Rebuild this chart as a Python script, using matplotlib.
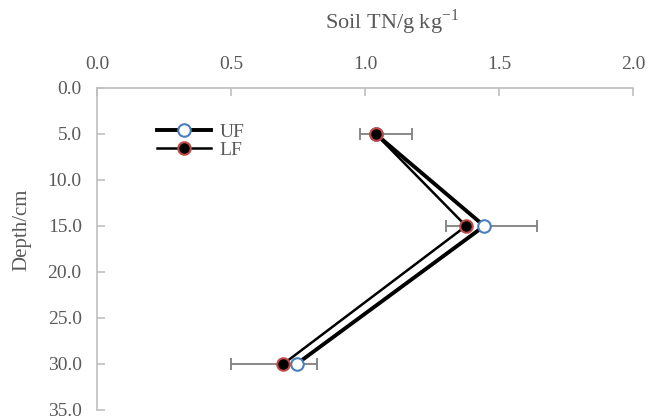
import matplotlib
matplotlib.use("Agg")
import matplotlib.pyplot as plt
import numpy as np

depth = [5, 15, 30]
uf_tn = [1.04, 1.445, 0.745]
lf_tn = [1.04, 1.377, 0.695]
uf_err_plus = [0.135, 0.197, 0.075]
lf_err_minus = [0.06, 0.075, 0.195]
xticks = [0.0, 0.5, 1.0, 1.5, 2.0]
yticks = [0, 5, 10, 15, 20, 25, 30, 35]

plt.rcParams['font.family'] = ['Liberation Serif', 'DejaVu Serif']
txt = '#595959'
spine = '#bfbfbf'

fig = plt.figure(figsize=(6.51, 4.2), dpi=100)
ax = fig.add_axes([97/651, 1-410/420, (633-97)/651, (410-88)/420])

ax.errorbar(uf_tn, depth, xerr=[np.zeros(3), uf_err_plus], fmt='none',
            ecolor='#7f7f7f', elinewidth=1.3, capsize=4, capthick=1.3, zorder=2)
ax.errorbar(lf_tn, depth, xerr=[lf_err_minus, np.zeros(3)], fmt='none',
            ecolor='#7f7f7f', elinewidth=1.3, capsize=4, capthick=1.3, zorder=2)

ax.plot(uf_tn, depth, color='black', lw=2.8, marker='o', ms=9,
        mfc='white', mec='#4a7ebb', mew=1.5, label='UF', zorder=3)
ax.plot(lf_tn, depth, color='black', lw=1.8, marker='o', ms=9,
        mfc='black', mec='#be4b48', mew=1.5, label='LF', zorder=4)

ax.set_xlim(0, 2)
ax.set_ylim(35, 0)
ax.set_xticks(xticks)
ax.set_yticks(yticks)
ax.set_xticklabels([f'{v:.1f}' for v in xticks])
ax.set_yticklabels([f'{v:.1f}' for v in yticks])
ax.xaxis.tick_top()
for s in ['right', 'bottom']:
    ax.spines[s].set_visible(False)
for s in ['top', 'left']:
    ax.spines[s].set_color(spine)
    ax.spines[s].set_linewidth(1.2)
ax.tick_params(axis='both', direction='in', length=6, width=1.2, color=spine,
               labelsize=14, labelcolor=txt, pad=11)

fig.text(392/651, 1-22/420, 'Soil TN/g kg$^{\\mathregular{-1}}$', ha='center', va='center',
         fontsize=16, color=txt)
fig.text(22/651, 1-230/420, 'Depth/cm', ha='center', va='center', rotation=90,
         fontsize=15, color=txt)

leg = ax.legend(loc='upper left', bbox_to_anchor=(60/536, 1-35/322), frameon=False,
                handlelength=2.8, handletextpad=0.4, labelspacing=0.05,
                fontsize=14, borderaxespad=0, borderpad=0)
for t in leg.get_texts():
    t.set_color(txt)

fig.savefig('out.png', dpi=100)
